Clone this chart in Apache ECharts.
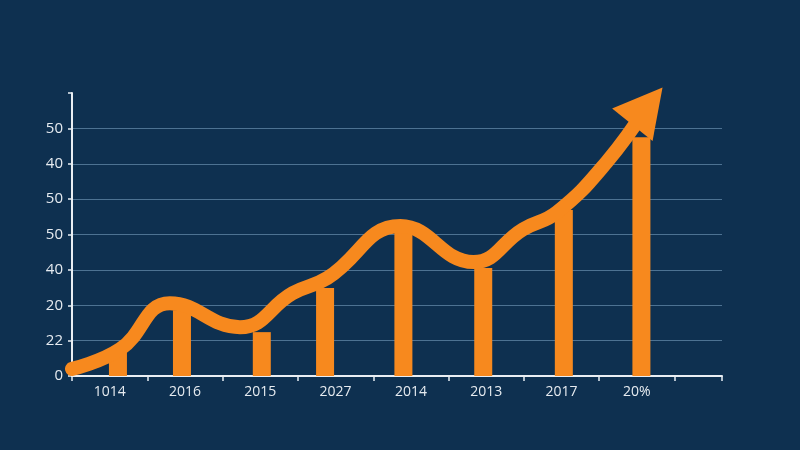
<!DOCTYPE html>
<html>
<head>
<meta charset="utf-8">
<script src="https://cdn.jsdelivr.net/npm/echarts@6/dist/echarts.min.js"></script>
<style>
html,body{margin:0;padding:0;background:#0e3050;}
#c{width:800px;height:450px;}
</style>
</head>
<body>
<div id="c"></div>
<script>
// Category labels along x (as printed in the picture)
var categories = ['1014', '2016', '2015', '2027', '2014', '2013', '2017', '20%'];
// Tick labels on y (as printed, bottom to top)
var yTickLabels = ['0', '22', '20', '40', '50', '50', '40', '50'];
// Bars: position (in category steps) and height (in y-tick steps)
var barX = [0.61, 1.46, 2.52, 3.36, 4.40, 5.46, 6.53, 7.56];
var barValues = [0.68, 1.86, 1.24, 2.49, 4.07, 3.05, 4.69, 6.75];
// Trend curve key points: x in category steps, y in y-tick steps
var curveX = [0, 0.64, 1.30, 2.23, 2.93, 3.39, 4.36, 5.33, 5.99, 6.44, 7.10, 7.64];
var curveY = [0.20, 0.76, 2.06, 1.38, 2.34, 2.77, 4.24, 3.22, 4.15, 4.63, 6.05, 7.63];

var ORANGE = '#f7891e';
var chart = echarts.init(document.getElementById('c'));

var barData = barValues.map(function (v, i) { return [barX[i], v]; });
var curveData = curveX.map(function (x, i) {
  var item = { value: [x, curveY[i]] };
  if (i === curveX.length - 1) {
    item.symbol = 'triangle';
    item.symbolSize = [52, 48];
    item.symbolRotate = -39;
    item.itemStyle = { color: ORANGE, opacity: 1 };
  }
  return item;
});
var labelValues = categories.map(function (c, i) { return i + 0.5; });

chart.setOption({
  backgroundColor: '#0e3050',
  animation: false,
  grid: { left: 72, right: 78, top: 93, bottom: 74, containLabel: false },
  xAxis: {
    type: 'value',
    min: 0,
    max: 8.63,
    interval: 1,
    axisLine: { show: true, lineStyle: { color: '#e9eef3', width: 2 } },
    axisTick: { show: true, length: 5, lineStyle: { color: '#e9eef3', width: 1.5 } },
    splitLine: { show: false },
    axisLabel: {
      customValues: labelValues,
      color: '#e6ebf0',
      fontFamily: 'Open Sans',
      fontSize: 14,
      margin: 9,
      formatter: function (v) { return categories[Math.floor(v)] || ''; }
    }
  },
  yAxis: {
    type: 'value',
    min: 0,
    max: 8,
    interval: 1,
    axisLine: { show: true, lineStyle: { color: '#e9eef3', width: 2 } },
    axisTick: { show: true, length: 4, lineStyle: { color: '#e9eef3', width: 1.5 } },
    splitLine: {
      show: true,
      showMinLine: false,
      showMaxLine: false,
      lineStyle: { color: 'rgba(130,170,200,0.55)', width: 1 }
    },
    axisLabel: {
      color: '#e6ebf0',
      fontFamily: 'Open Sans',
      fontSize: 15,
      margin: 9,
      formatter: function (v) { return yTickLabels[v] !== undefined ? yTickLabels[v] : ''; }
    }
  },
  series: [
    {
      type: 'bar',
      data: barData,
      barWidth: 18,
      itemStyle: { color: ORANGE },
      z: 2
    },
    {
      type: 'line',
      data: curveData,
      smooth: 0.45,
      symbol: 'none',
      showSymbol: true,
      lineStyle: { color: ORANGE, width: 14, cap: 'round' },
      itemStyle: { color: ORANGE },
      z: 3
    }
  ]
});
</script>
</body>
</html>
